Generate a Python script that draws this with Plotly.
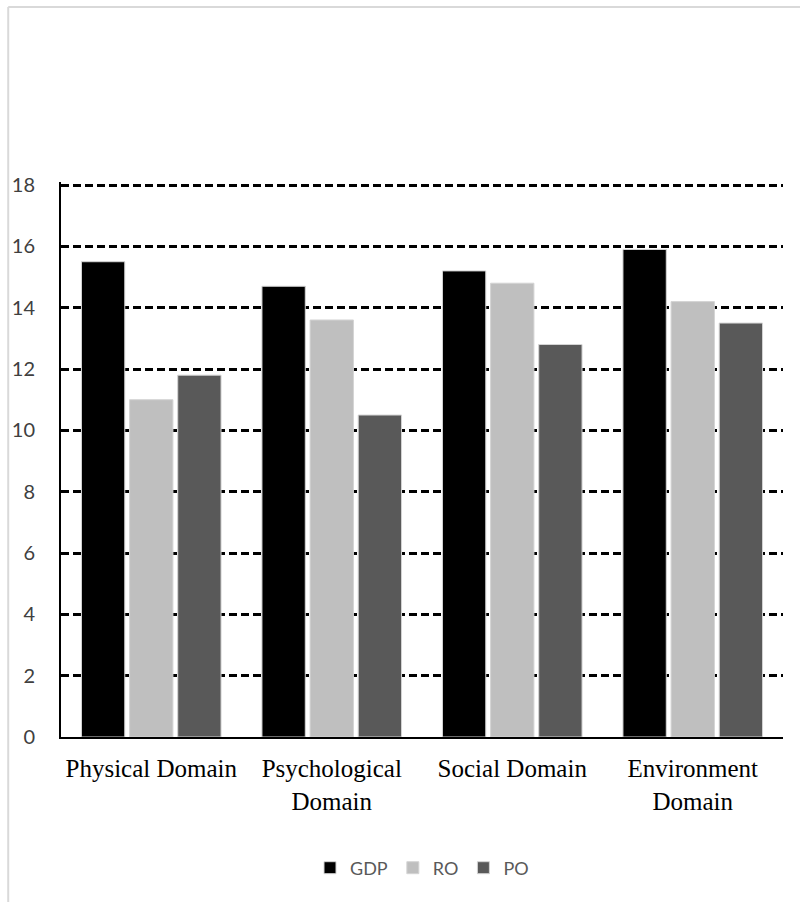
import plotly.graph_objects as go

categories = ["Physical Domain", "Psychological<br>Domain", "Social Domain", "Environment<br>Domain"]
gdp = [15.5, 14.7, 15.2, 15.9]
ro = [11.0, 13.6, 14.8, 14.2]
po = [11.8, 10.5, 12.8, 13.5]
series_names = ["GDP", "RO", "PO"]
series_colors = ["#000000", "#bfbfbf", "#595959"]
y_ticks = [0, 2, 4, 6, 8, 10, 12, 14, 16, 18]

fig = go.Figure()
for name, vals, col in zip(series_names, [gdp, ro, po], series_colors):
    fig.add_trace(go.Bar(x=categories, y=vals, name=name,
                         marker=dict(color=col, line=dict(color="#d4d4d4", width=1))))

L, R, T, B = 58, 17, 182, 165
W, H = 800, 902
pw, ph = W - L - R, H - T - B

fig.update_layout(
    width=W, height=H,
    margin=dict(l=L, r=R, t=T, b=B),
    paper_bgcolor="white", plot_bgcolor="white",
    barmode="group", bargap=0.2, bargroupgap=0.1,
    showlegend=True,
    legend=dict(orientation="h", x=0.5, xanchor="center", y=(737 - 868) / ph, yanchor="middle",
                font=dict(family="Lato", size=18, color="#595959"),
                itemwidth=30, traceorder="normal"),
    xaxis=dict(showline=True, linecolor="black", linewidth=2, ticks="",
               tickfont=dict(family="Liberation Serif", size=25, color="black"),
               ticklabelstandoff=8, showgrid=False),
    yaxis=dict(range=[0, 18.1], tickvals=y_ticks, showline=True, linecolor="black", linewidth=2,
               showgrid=True, gridcolor="black", gridwidth=2.5, griddash="8px,4px",
               zeroline=False, ticks="", ticklabelstandoff=20,
               tickfont=dict(family="Lato", size=20, color="#404040")),
    shapes=[
        dict(type="line", xref="paper", yref="paper", x0=(5 - L) / pw, x1=(805 - L) / pw,
             y0=1 + (T - 7) / ph, y1=1 + (T - 7) / ph, line=dict(color="#d9d9d9", width=2)),
        dict(type="line", xref="paper", yref="paper", x0=(5 - L) / pw, x1=(5 - L) / pw,
             y0=1 + (T - 7) / ph, y1=-(B + 5) / ph, line=dict(color="#d9d9d9", width=2)),
    ],
)

fig.write_html("out.html", config={"displayModeBar": False},
               post_script="document.body.style.margin='0';document.body.style.padding='0';")
